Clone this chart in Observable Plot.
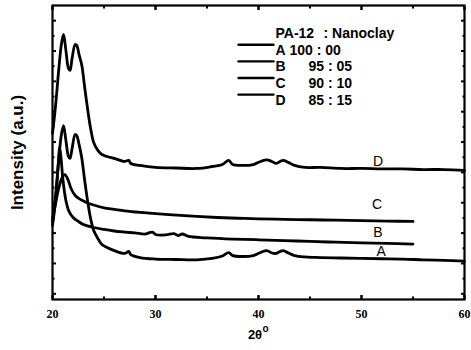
<!DOCTYPE html>
<html><head><meta charset="utf-8">
<script src="https://cdn.jsdelivr.net/npm/d3@7"></script>
<script src="https://cdn.jsdelivr.net/npm/@observablehq/plot@0.6"></script>
<style>body{margin:0;background:#fff}#chart{width:471px;height:350px}</style>
</head><body><div id="chart"></div>
<script>
// ---- data (2θ in degrees, intensity in arbitrary units) ----
const thetaAD = [20.0,20.3,20.6,20.85,21.07,21.3,21.55,21.7,21.9,22.2,22.35,22.6,22.85,23.1,23.4,23.7,24.0,24.4,24.8,25.3,26,27,27.4,27.6,28.5,30,32,34,35.5,36.5,37.1,37.5,38.5,39.5,40.2,40.8,41.3,41.7,42.1,42.4,42.9,43.5,44.5,46,48,50,52,54,56,58,60];
const intensityD = [1057,1241,1472,1637,1709,1604,1485,1472,1551,1643,1637,1571,1505,1373,1222,1090,997,945,918,905,892,872,879,859,846,833,829,826,839,852,879,852,846,852,872,882,872,859,872,879,866,846,833,833,826,826,823,823,819,819,813];
const intensityA = [470,648,879,1043,1109,1011,905,892,958,1050,1043,978,892,760,615,496,417,365,325,305,285,266,279,259,239,229,226,224,233,249,272,252,246,252,272,285,269,266,279,285,269,252,243,239,236,233,231,229,224,220,215];
const thetaB = [20.0,20.3,20.55,20.7,20.85,21.0,21.3,21.6,22.0,22.5,23.0,24.0,25.0,26.0,27.0,28.0,29.0,29.7,30.0,31.0,31.8,32.2,32.6,33.2,35.0,37.5,40.0,42.5,45.0,47.5,50.0,52.5,55.0];
const intensityB = [450,615,846,964,879,760,615,543,503,477,457,437,424,414,407,401,394,407,391,388,397,384,394,378,369,361,356,351,345,340,336,332,328];
const thetaC = [20.0,20.3,20.6,20.9,21.2,21.5,21.8,22.2,22.7,23.3,24.0,25.0,26.0,27.0,28.5,30.0,32.0,34.0,36.0,38.0,40.0,42.5,45.0,47.5,50.0,52.5,55.0];
const intensityC = [496,595,694,760,786,753,694,648,622,602,585,566,556,546,536,529,519,510,503,498,494,491,488,485,482,479,477];

const seriesKeys = ["A","B","C","D"];
const seriesRatios = ["100 : 00","95 : 05","90 : 10","85 : 15"];
const labelTheta = [51.9, 51.6, 51.5, 51.6];
const labelIntensity = [279, 404, 589, 872];

const xTicksMajor = [20,30,40,50,60];
const xTicksMinor = [25,35,45,55];
const yTicksMajor = [0,200,400,600,800,1000,1200,1400,1600,1800];
const yTicksMinor = [100,300,500,700,900,1100,1300,1500,1700];

// ---- build tables ----
const toRows = (key, xs, ys) => xs.map((x, i) => ({key, theta: x, intensity: ys[i]}));
const rows = [
  ...toRows("A", thetaAD, intensityA),
  ...toRows("B", thetaB, intensityB),
  ...toRows("C", thetaC, intensityC),
  ...toRows("D", thetaAD, intensityD)
];
const labels = seriesKeys.map((k, i) => ({key: k, theta: labelTheta[i], intensity: labelIntensity[i]}));
const legend = seriesKeys.map((k, i) => ({key: k, ratio: seriesRatios[i], i}));

const lineShape = {draw(context, l) { context.moveTo(0, 0); context.lineTo(0, -l); }};
const LEG_Y0 = 39.3, LEG_DY = 16.6;

const legendMarks = legend.flatMap(d => [
  Plot.vector([d], {frameAnchor: "top-left", dx: 186, dy: LEG_Y0 + d.i * LEG_DY, length: 35, rotate: 90, anchor: "start", shape: lineShape, stroke: "black", strokeWidth: 2.4}),
  Plot.text([d], {frameAnchor: "top-left", dx: 223, dy: LEG_Y0 + d.i * LEG_DY, text: "key", textAnchor: "start", fontWeight: "bold", fontSize: 14}),
  Plot.text([d], {frameAnchor: "top-left", dx: d.i === 0 ? 237 : 256, dy: LEG_Y0 + d.i * LEG_DY, text: "ratio", textAnchor: "start", fontWeight: "bold", fontSize: 14})
]);

const tickOpts = {text: null, label: null, stroke: "black"};

const chart = Plot.plot({
  width: 471,
  height: 350,
  marginLeft: 52,
  marginRight: 7,
  marginTop: 5,
  marginBottom: 51,
  style: {fontFamily: "'Liberation Sans', Arial, sans-serif", background: "white", color: "black"},
  x: {domain: [20, 60]},
  y: {domain: [-37.5, 1900]},
  marks: [
    Plot.line(rows, {x: "theta", y: "intensity", z: "key", stroke: "black", strokeWidth: 2.8, curve: "catmull-rom"}),
    Plot.frame({stroke: "black", strokeWidth: 2.2}),
    Plot.axisX({anchor: "bottom", ticks: xTicksMajor, tickSize: -4, strokeWidth: 2.5, ...tickOpts}),
    Plot.axisX({anchor: "bottom", ticks: xTicksMinor, tickSize: -2.5, strokeWidth: 2, ...tickOpts}),
    Plot.axisX({anchor: "top", ticks: xTicksMajor, tickSize: -4, strokeWidth: 2.5, ...tickOpts}),
    Plot.axisX({anchor: "top", ticks: xTicksMinor, tickSize: -2.5, strokeWidth: 2, ...tickOpts}),
    Plot.axisY({anchor: "left", ticks: yTicksMajor, tickSize: -4, strokeWidth: 2, ...tickOpts}),
    Plot.axisY({anchor: "left", ticks: yTicksMinor, tickSize: -2.5, strokeWidth: 2, ...tickOpts}),
    Plot.axisY({anchor: "right", ticks: yTicksMajor, tickSize: -4, strokeWidth: 2, ...tickOpts}),
    Plot.axisY({anchor: "right", ticks: yTicksMinor, tickSize: -2.5, strokeWidth: 2, ...tickOpts}),
    Plot.axisX({anchor: "bottom", ticks: xTicksMajor, tickSize: 0, tickPadding: 10, label: null, fontFamily: "'Liberation Serif', 'Times New Roman', serif", fontWeight: "bold", fontSize: 12}),
    Plot.text(labels, {x: "theta", y: "intensity", text: "key", fontSize: 14}),
    Plot.text(["Intensity (a.u.)"], {frameAnchor: "left", textAnchor: "middle", dx: -35, rotate: -90, fontSize: 17, fontWeight: "bold"}),
    Plot.text(["2θ"], {frameAnchor: "bottom", dx: -3.5, dy: 39, fontSize: 13, fontWeight: "bold"}),
    Plot.text(["o"], {frameAnchor: "bottom", dx: 7, dy: 32, fontSize: 10, fontWeight: "bold"}),
    Plot.text(["PA-12"], {frameAnchor: "top-left", dx: 223, dy: 22.3, textAnchor: "start", fontWeight: "bold", fontSize: 14}),
    Plot.text([": Nanoclay"], {frameAnchor: "top-left", dx: 271, dy: 22.3, textAnchor: "start", fontWeight: "bold", fontSize: 14}),
    ...legendMarks
  ]
});
document.getElementById("chart").appendChild(chart);
</script>
</body></html>
